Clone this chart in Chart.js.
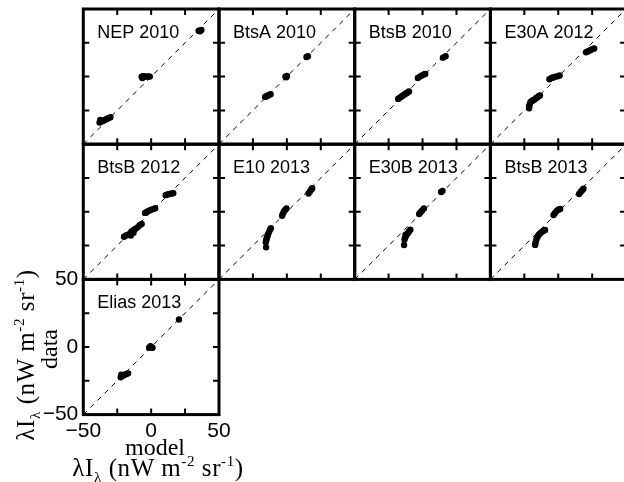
<!DOCTYPE html>
<html>
<head>
<meta charset="utf-8">
<script src="https://cdn.jsdelivr.net/npm/chart.js@4.4.1/dist/chart.umd.min.js"></script>
<style>
  body { margin: 0; background: #fff; }
  #wrap { position: relative; width: 624px; height: 482px; overflow: hidden; background: #fff; }
  #wrap canvas { position: absolute; left: 0; top: 0; }
  .lab { position: absolute; font-family: "Liberation Serif", serif; font-size: 24px; line-height: 1;
         white-space: nowrap; transform: translate(-50%, -50%); color: #000; }
  .big { font-size: 25px; letter-spacing: 0.6px; }
  .rot { transform: translate(-50%, -50%) rotate(-90deg); }
  .lab sub, .lab sup { font-size: 60%; line-height: 0; }
</style>
</head>
<body>
<div id="wrap">
  <div class="lab" style="left:155px; top:447px;">model</div>
  <div class="lab big" style="left:158px; top:467px;">λI<sub>λ</sub> (nW m<sup>-2</sup> sr<sup>-1</sup>)</div>
  <div class="lab rot" style="left:49px; top:349px;">data</div>
  <div class="lab rot big" style="left:25px; top:355px;">λI<sub>λ</sub> (nW m<sup>-2</sup> sr<sup>-1</sup>)</div>
</div>
<script>
"use strict";

// panel names, in reading order
const panelNames = ['NEP 2010', 'BtsA 2010', 'BtsB 2010', 'E30A 2012',
                    'BtsB 2012', 'E10 2013', 'E30B 2013', 'BtsB 2013', 'Elias 2013'];

// model (x) and data (y) values per panel
const nep2010Model  = [-38, -37, -36, -35, -34, -33, -32, -31, -30, -37.5, -7, -6, -5, -4, -3, -2, -1, -6.5, 35, 36, 37];
const nep2010Data   = [-34, -33, -33, -32.5, -32, -31.5, -31, -30.5, -30, -32, 0, 0.3, 0.2, 0, 0, 0.2, 0, -1, 34, 33.5, 34.5];

const btsA2010Model = [-16, -15, -14, -13, -12, -1, 0, -0.5, 14.5, 15.5];
const btsA2010Data  = [-15, -14.5, -14, -13.5, -13, 0, 0.5, -0.5, 14.5, 15];

const btsB2010Model = [-18, -17, -16, -15, -14, -13, -12, -11, -10, -3.5, -2, -0.5, 1, 2, 15, 17];
const btsB2010Data  = [-16.5, -15.7, -15, -14.3, -13.7, -13, -12.3, -11.7, -11, -1, 0, 0.8, 1.5, 2, 14, 15];

const e30A2012Model = [-21.5, -21.5, -21, -20.5, -19.5, -18.5, -17.5, -16.5, -15.5, -14.5, -13.5,
                       -6.5, -5, -3.5, -2, -0.5, 1, 20.5, 22, 23.5, 25, 26.5];
const e30A2012Data  = [-23.5, -22, -20.5, -19, -18, -17.5, -17, -16, -15.5, -14.5, -14,
                       -2, -1, -0.5, 0, 0.3, 0.8, 18, 18.8, 19.5, 20.2, 20.8];

const btsB2012Model = [-20, -18.5, -17, -15.5, -14.5, -13, -11.5, -10, -8.5, -7, -15, -13,
                       -4.5, -3, -1.5, 0, 1.5, 3, 10.7, 12, 13.5, 15, 16.3];
const btsB2012Data  = [-18.5, -17.5, -17, -16, -14.5, -13.5, -12.5, -11.5, -10, -9, -17.5, -15.5,
                       -0.8, 0, 0.8, 1.5, 2, 2.6, 12.3, 12.8, 13.2, 13.5, 13.7];

const e10_2013Model = [-15.3, -15.5, -15.2, -14.8, -14.3, -13.8, -13.2, -12.5, -11.8,
                       -3.5, -3, -2.2, -1.3, -0.3, 16, 17, 18, 18.7];
const e10_2013Data  = [-26.3, -22.5, -21, -19.5, -18, -16.5, -15, -13.5, -12.2,
                       -3, -1.5, 0, 1.3, 2.5, 13.5, 15, 16.5, 17.5];

const e30B2013Model = [-13.6, -13.3, -12.8, -12, -11, -10, -9, -12.5, -2.5, -1.5, -0.3, 1, 13.7, 14.7];
const e30B2013Data  = [-24.6, -20.5, -19, -17.5, -16, -14.5, -13.2, -17, -1.6, -0.3, 1, 2.4, 14.7, 15.5];

const btsB2013Model = [-17, -16.8, -16.4, -15.9, -15.2, -14.5, -13.5, -12.3, -11, -9.7,
                       -3.5, -2.5, -1.3, 0, 1.4, 15.4, 16.5, 17.6, 18.6];
const btsB2013Data  = [-24.5, -23, -21.5, -20, -18.5, -17.2, -16, -15, -14.2, -13.5,
                       -2.4, -1, 0.5, 1.5, 2.1, 13.2, 14.6, 16, 17];

const elias2013Model = [-22.4, -21.5, -20.5, -19.5, -18.3, -17, -22, -1.5, 0, 1, -0.5, 20.5];
const elias2013Data  = [-22.4, -21.5, -21, -20.5, -20, -19.5, -20.5, -0.5, 0, -0.5, 0.5, 20.3];

const panelModel = [nep2010Model, btsA2010Model, btsB2010Model, e30A2012Model,
                    btsB2012Model, e10_2013Model, e30B2013Model, btsB2013Model, elias2013Model];
const panelData  = [nep2010Data, btsA2010Data, btsB2010Data, e30A2012Data,
                    btsB2012Data, e10_2013Data, e30B2013Data, btsB2013Data, elias2013Data];

const axisRange = [-50, 50];     // both axes
const labelTicks = [-50, 0, 50]; // labelled ticks (lower-left panel)
const minorTicks = [-25, 0, 25]; // inward tick marks
const diagonal = [-50, 50];      // one-to-one line

// layout of the grid
const W = 640, H = 482;
const x0 = 83.3, dx = 135.7, y0 = 9, dy = 135.2;

// frame, inward ticks and panel name
const panelFrame = {
  id: 'panelFrame',
  afterDatasetsDraw(chart, args, opts) {
    const {ctx, chartArea: a, scales} = chart;
    ctx.save();
    ctx.strokeStyle = '#000';
    ctx.lineWidth = 2;
    ctx.beginPath();
    minorTicks.forEach(v => {
      const px = scales.x.getPixelForValue(v);
      const py = scales.y.getPixelForValue(v);
      ctx.moveTo(px, a.bottom); ctx.lineTo(px, a.bottom - 6);
      ctx.moveTo(px, a.top); ctx.lineTo(px, a.top + 6);
      ctx.moveTo(a.left, py); ctx.lineTo(a.left + 6, py);
      ctx.moveTo(a.right, py); ctx.lineTo(a.right - 6, py);
    });
    ctx.stroke();
    ctx.lineWidth = 3;
    ctx.strokeRect(a.left, a.top, a.right - a.left, a.bottom - a.top);
    ctx.fillStyle = '#000';
    ctx.font = '18px "Liberation Sans", Arial, sans-serif';
    ctx.textBaseline = 'alphabetic';
    ctx.fillText(opts.name, a.left + 14, a.top + 29);
    ctx.restore();
  }
};

const wrap = document.getElementById('wrap');

panelNames.forEach((name, i) => {
  const col = i % 4, row = Math.floor(i / 4);
  const left = x0 + col * dx, top = y0 + row * dy;
  const right = left + dx, bottom = top + dy;
  const withAxes = (i === 8);
  const yAxisW = withAxes ? 40 : 0, xAxisH = withAxes ? 40 : 0;

  const canvas = document.createElement('canvas');
  canvas.width = W; canvas.height = H;
  canvas.style.width = W + 'px'; canvas.style.height = H + 'px';
  wrap.insertBefore(canvas, wrap.firstChild);

  const tickFont = {family: '"Liberation Sans", Arial, sans-serif', size: 21};
  const fmt = v => String(v).replace('-', '\u2212');

  new Chart(canvas, {
    type: 'scatter',
    data: {
      datasets: [{
        data: panelModel[i].map((x, j) => ({x: x, y: panelData[i][j]})),
        pointRadius: 3.2,
        pointBackgroundColor: '#000',
        pointBorderWidth: 0
      }, {
        data: diagonal.map(v => ({x: v, y: v})),
        showLine: true,
        borderColor: '#000',
        borderWidth: 1,
        borderDash: [5, 5],
        pointRadius: 0
      }]
    },
    options: {
      responsive: false,
      animation: false,
      devicePixelRatio: 1,
      events: [],
      layout: {
        padding: {
          left: left - yAxisW,
          top: top,
          right: W - right,
          bottom: H - bottom - xAxisH
        }
      },
      scales: {
        x: {
          min: axisRange[0], max: axisRange[1],
          display: withAxes,
          grid: {display: false, drawTicks: false},
          border: {display: false},
          afterBuildTicks: s => { s.ticks = labelTicks.map(v => ({value: v})); },
          afterFit: s => { if (withAxes) s.height = xAxisH; },
          ticks: {color: '#000', font: tickFont, padding: 4, maxRotation: 0, callback: fmt}
        },
        y: {
          min: axisRange[0], max: axisRange[1],
          display: withAxes,
          grid: {display: false, drawTicks: false},
          border: {display: false},
          afterBuildTicks: s => { s.ticks = labelTicks.map(v => ({value: v})); },
          afterFit: s => { if (withAxes) s.width = yAxisW; },
          ticks: {color: '#000', font: tickFont, padding: 5, callback: fmt}
        }
      },
      plugins: {
        legend: {display: false},
        tooltip: {enabled: false},
        panelFrame: {name: name}
      }
    },
    plugins: [panelFrame]
  });
});
</script>
</body>
</html>
